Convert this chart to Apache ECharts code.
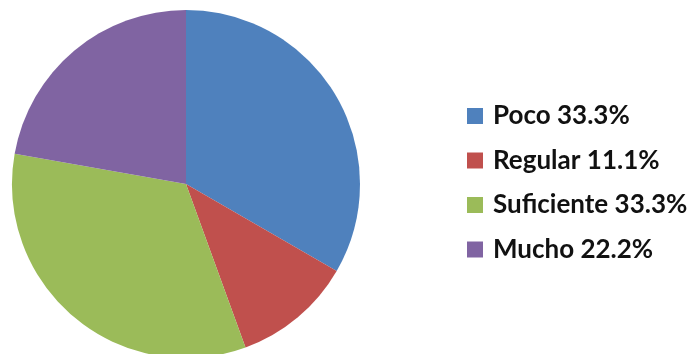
<!DOCTYPE html>
<html>
<head>
<meta charset="utf-8">
<script src="https://cdn.jsdelivr.net/npm/echarts@6/dist/echarts.min.js"></script>
<style>
  html, body { margin: 0; padding: 0; background: #ffffff; }
  #chart { width: 693px; height: 354px; }
</style>
</head>
<body>
<div id="chart"></div>
<script>
// Answer categories, their counts and the percentages shown in the legend
const categories = ['Poco', 'Regular', 'Suficiente', 'Mucho'];
const counts = [3, 1, 3, 2];
const percentLabels = ['33.3%', '11.1%', '33.3%', '22.2%'];
const colors = ['#4F81BD', '#C0504D', '#9BBB59', '#8064A2'];

const chart = echarts.init(document.getElementById('chart'), null, { renderer: 'canvas' });

const data = categories.map((name, i) => ({
  name: name,
  value: counts[i],
  itemStyle: { color: colors[i] }
}));

chart.setOption({
  animation: false,
  backgroundColor: '#ffffff',
  legend: {
    orient: 'vertical',
    left: 462,
    top: 98,
    padding: 5,
    itemWidth: 16,
    itemHeight: 16,
    itemGap: 18.5,
    icon: 'rect',
    data: categories,
    formatter: function (name) {
      return name + ' ' + percentLabels[categories.indexOf(name)];
    },
    textStyle: {
      fontFamily: 'Lato',
      fontWeight: 'bold',
      fontSize: 26,
      color: '#111111',
      padding: [0, 0, 0, 5]
    }
  },
  series: [{
    type: 'pie',
    center: [186, 184],
    radius: 174,
    startAngle: 90,
    clockwise: true,
    label: { show: false },
    labelLine: { show: false },
    itemStyle: { borderWidth: 0 },
    emphasis: { disabled: true },
    data: data
  }]
});
</script>
</body>
</html>
